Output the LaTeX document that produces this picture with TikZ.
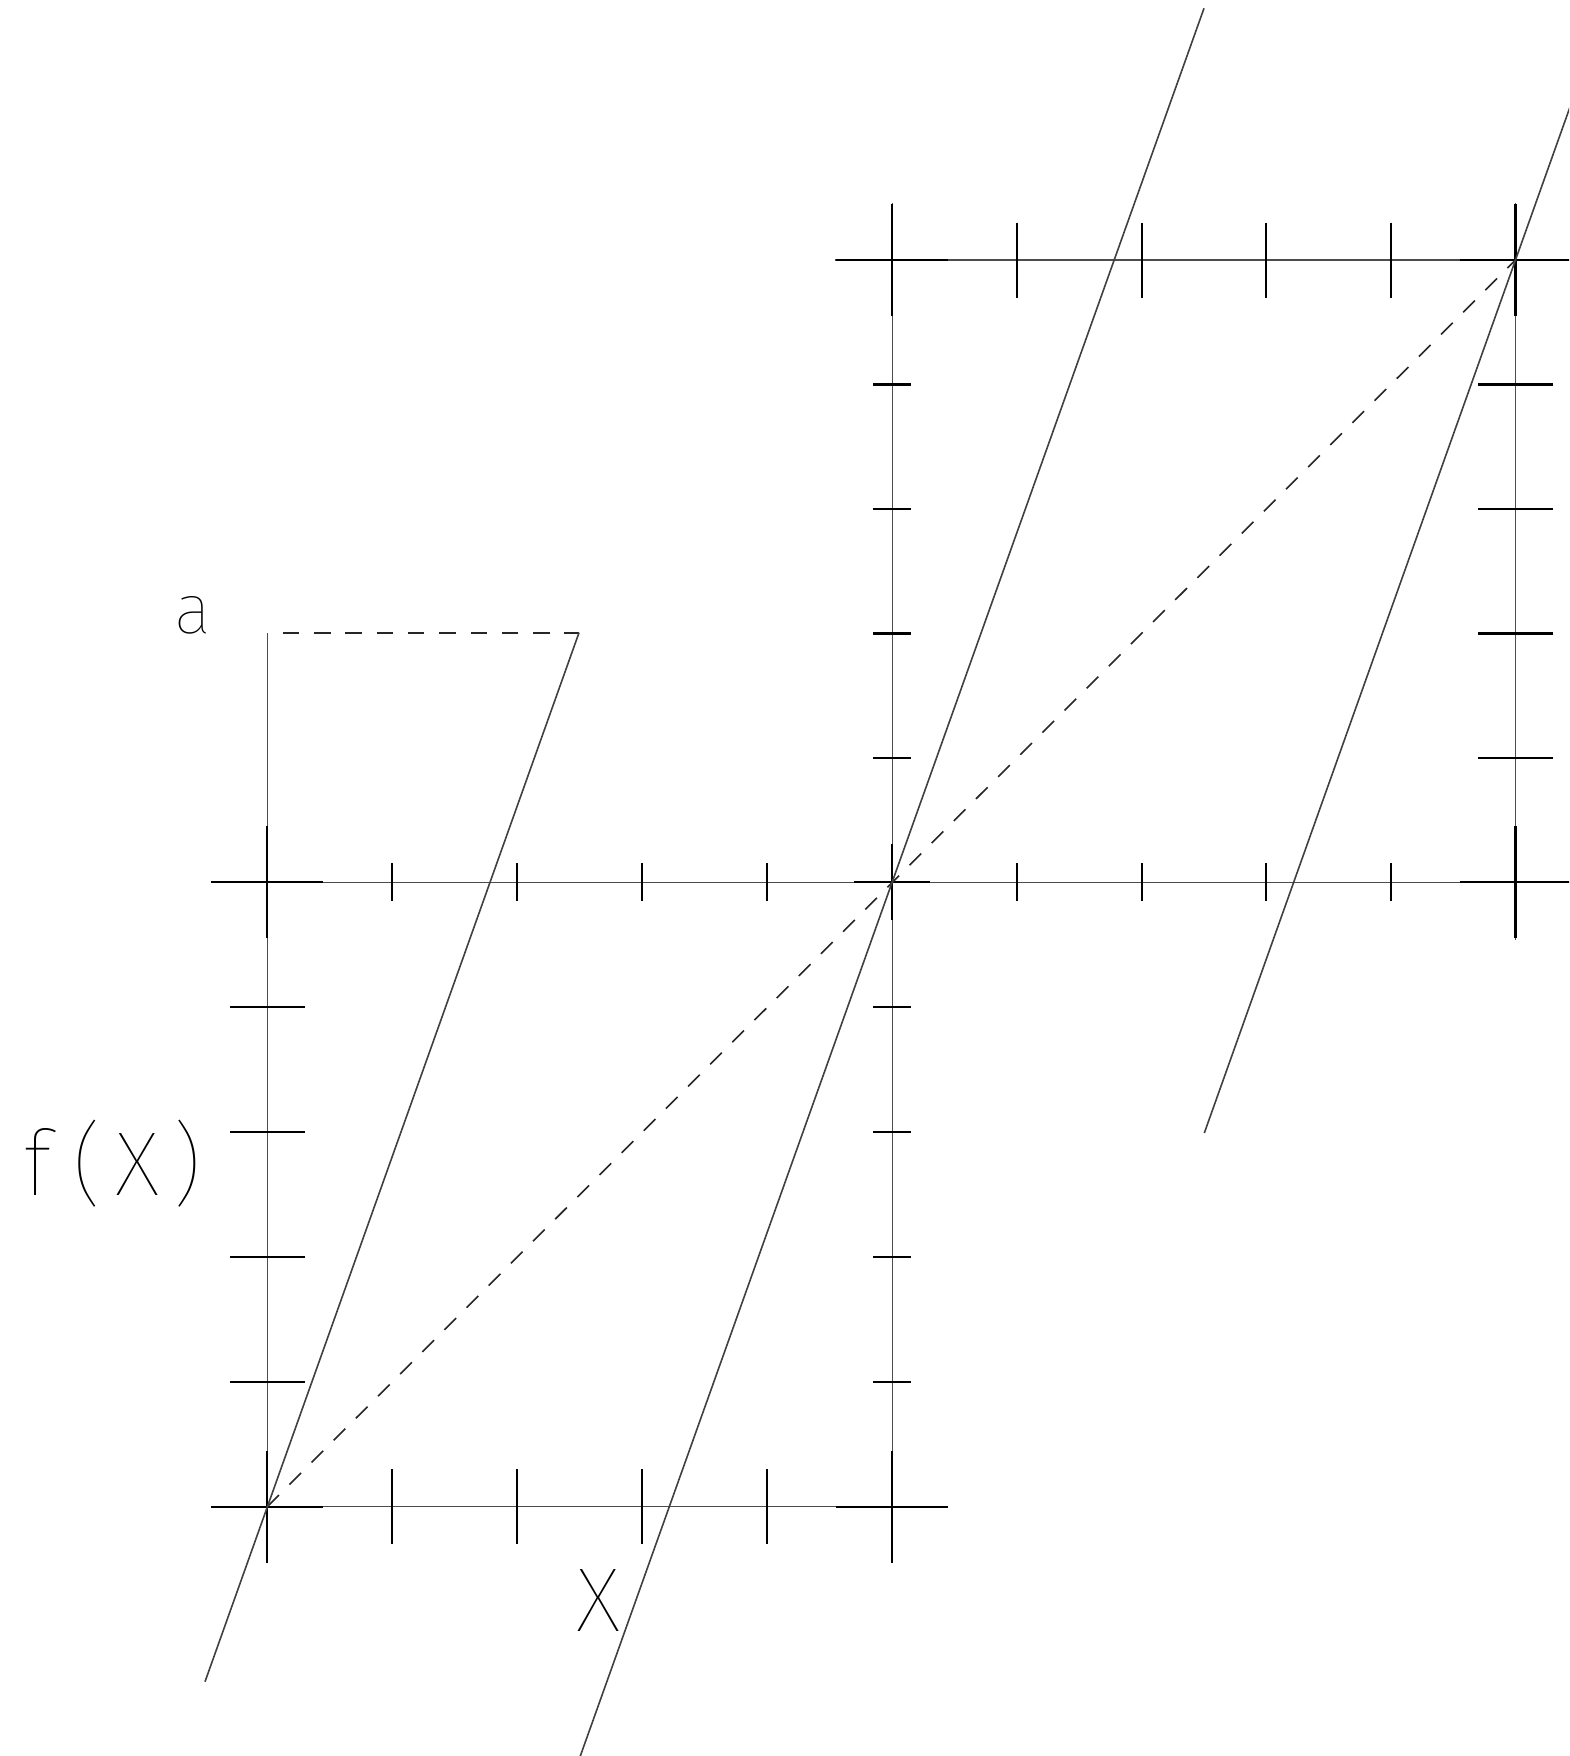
\documentclass[tikz,border=0pt]{standalone}
\usepackage{fontspec}
\IfFontExistsTF{Fira Sans Thin}{\newfontfamily\labelfont{Fira Sans Thin}}{\newfontfamily\labelfont{DejaVu Sans}}
\tikzset{
  axisline/.style={line width=1.5pt, black!70},
  tickmark/.style={line width=2.1pt, black},
  slantline/.style={line width=1.6pt, black!75},
  dashline/.style={line width=1.6pt, black!85, dash pattern=on 16.5pt off 14.8pt},
  lbl/.style={inner sep=0pt, font=\labelfont\fontsize{91}{100}\selectfont},
  lblsmall/.style={inner sep=0pt, font=\labelfont\fontsize{70}{80}\selectfont}
}
\begin{document}
\begin{tikzpicture}[x=1pt,y=-1pt]
\useasboundingbox (0,0) rectangle (1569,1756);
\clip (0,0) rectangle (1569,1756);
% key points
\coordinate (O) at (267.3,1506.7);
\coordinate (B) at (892.3,1506.7);
\coordinate (L) at (267.3,882.3);
\coordinate (C) at (892.3,882.3);
\coordinate (T) at (892.3,260);
\coordinate (R) at (1515.5,260);
\coordinate (M) at (1515.5,882.3);
% axes
\draw[axisline] (211.7,1506.7) -- (948.3,1506.7);
\draw[axisline] (267.3,1563.3) -- (267.3,632.7);
\draw[axisline] (211.3,882.3) -- (1569,882.3);
\draw[axisline] (892.3,1563.3) -- (892.3,202.7);
\draw[axisline] (834.7,260) -- (1569,260);
\draw[axisline] (1515.5,202.7) -- (1515.5,940);
% long ticks of lower square
\foreach \x in {392.3,517.3,642.3,767.3}
  \draw[tickmark] (\x,1469.2) -- (\x,1544.2);
\foreach \y in {1381.8,1256.9,1132,1007.1}
  \draw[tickmark] (229.8,\y) -- (304.8,\y);
% long ticks of upper square
\foreach \x in {1017,1141.6,1266.2,1390.9}
  \draw[tickmark] (\x,222.5) -- (\x,297.5);
\foreach \y in {384.5,509,633.5,758}
  \draw[tickmark] (1478,\y) -- (1553,\y);
% short ticks on middle axes
\foreach \x in {392.3,517.3,642.3,767.3,1017,1141.6,1266.2,1390.9}
  \draw[tickmark] (\x,863.3) -- (\x,901.3);
\foreach \y in {384.5,509,633.5,758,1007.1,1132,1256.9,1381.8}
  \draw[tickmark] (873.3,\y) -- (911.3,\y);
% corner crosses
\foreach \p in {O,B,L,T,R,M}{
  \draw[tickmark] (\p) ++(-56,0) -- ++(112,0);
  \draw[tickmark] (\p) ++(0,-56) -- ++(0,112);
}
\draw[tickmark] (C) ++(-38,0) -- ++(76,0);
\draw[tickmark] (C) ++(0,-38) -- ++(0,76);
% dashed lines
\coordinate (A1) at (282.7,632.7);
\coordinate (A2) at (579,632.7);
\draw[dashline] (A1) -- (A2);
\draw[dashline] (O) -- (R);
% slanted lines
\coordinate (S1a) at (205,1681.7);
\coordinate (S2a) at (579.6,1758);
\coordinate (S2b) at (1204,8.3);
\coordinate (S3a) at (1204.3,1133);
\coordinate (S3b) at (1827,-614);
\draw[slantline] (S1a) -- (A2);
\draw[slantline] (S2a) -- (S2b);
\draw[slantline] (S3a) -- (S3b);
% labels
\node[lblsmall, anchor=base] (alab) at (192.5,633.3) {a};
\node[lbl, anchor=base west] (fx) at (12,1195) {\makebox[50pt]{f}\makebox[50pt]{(}\makebox[50pt]{X}\makebox[50pt]{)}};
\node[lbl, anchor=base] (xlab) at (598.4,1631.7) {X};
\end{tikzpicture}
\end{document}
